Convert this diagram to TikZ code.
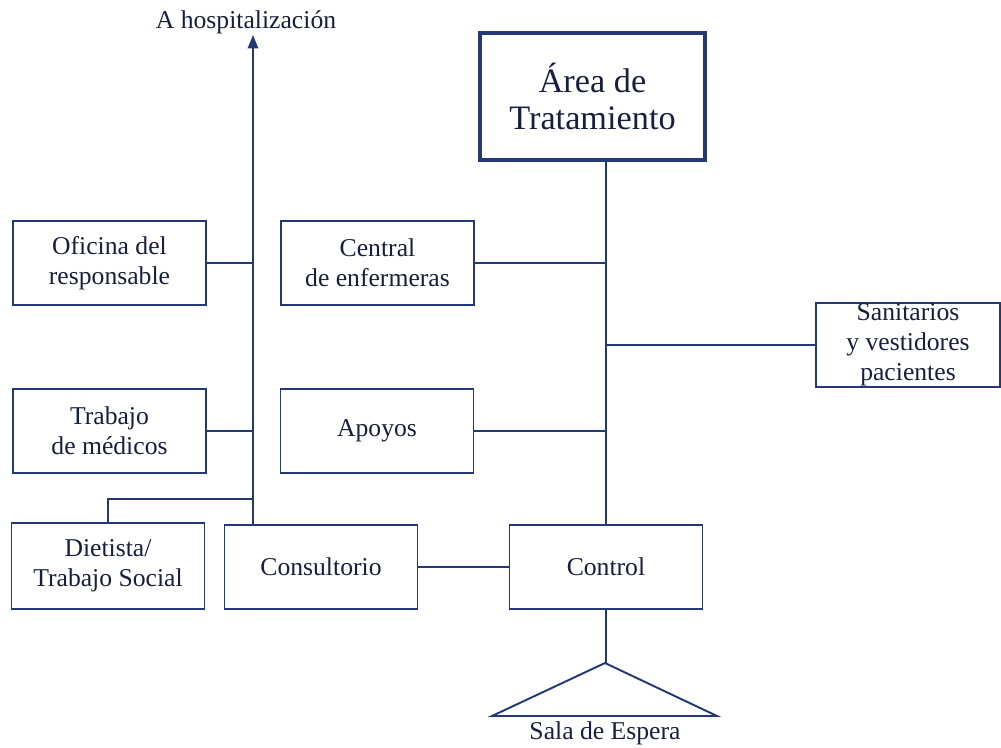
\documentclass[tikz,border=0pt]{standalone}
\usepackage{fontspec}
\setmainfont{Liberation Serif}
\usetikzlibrary{arrows.meta}

\tikzset{
    areabox/.style={shape=rectangle,draw=area_line,line width=2.4pt,minimum width=4.5cm,minimum height=2.54cm,align=center,text=area_text,font=\fontsize{19.5}{21}\selectfont},
    roombox/.style={shape=rectangle,draw=area_line,line width=1.1pt,minimum width=3.86cm,minimum height=1.68cm,align=center,text=area_text,font=\fontsize{14.6}{17}\selectfont},
    link/.style={draw=area_line,line width=1.1pt},
}

\begin{document}
\begin{tikzpicture}
    \definecolor{area_line}{RGB}{36,56,118}
    \definecolor{area_text}{RGB}{24,30,62}
    \useasboundingbox (0,0) rectangle (20.02,14.94);
    \node[areabox] (area) at (11.85,13.01) {Área de\\Tratamiento};
    \node[roombox] (ofi) at (2.19,9.68) {Oficina del\\responsable};
    \node[roombox] (cen) at (7.55,9.68) {Central\\de enfermeras};
    \node[roombox,minimum width=3.68cm,inner ysep=0pt] (san) at (18.16,8.04) {Sanitarios\\y vestidores\\pacientes};
    \node[roombox] (tra) at (2.19,6.32) {Trabajo\\de médicos};
    \node[roombox] (apo) at (7.54,6.32) {Apoyos};
    \node[roombox,minimum height=1.72cm] (die) at (2.16,3.62) {Dietista/\\Trabajo Social};
    \node[roombox] (con) at (6.42,3.6) {Consultorio};
    \node[roombox] (ctl) at (12.12,3.6) {Control};
    \node[text=area_text,font=\fontsize{14.6}{17}\selectfont] (hosp) at (4.92,14.5) {A hospitalización};
    \node[text=area_text,font=\fontsize{14.6}{17}\selectfont] (sala) at (12.1,0.28) {Sala de Espera};
    \coordinate (tip) at (5.06,14.24);
    \coordinate (apex) at (12.1,1.68);
    \coordinate (diet) at (5.06,4.96);
    % left trunk
    \draw[link,-{Triangle[length=2.7mm,width=2.1mm]}] (con.north -| tip) to (tip);
    \draw[link] (ofi.east) to (ofi.east -| tip);
    \draw[link] (tra.east) to (tra.east -| tip);
    \draw[link] (die.north) to (die.north |- diet) to (diet);
    \draw[link] (con.east) to (con.east -| ctl.west);
    % right trunk
    \draw[link] (area.south -| ctl.north) to (ctl.north);
    \draw[link] (cen.east) to (cen.east -| ctl.north);
    \draw[link] (apo.east) to (apo.east -| ctl.north);
    \draw[link] (san.west) to (san.west -| ctl.north);
    \draw[link] (ctl.south) to (ctl.south |- apex);
    \draw[link] (apex) to (14.34,0.62) to (9.84,0.62) to cycle;
\end{tikzpicture}
\end{document}
